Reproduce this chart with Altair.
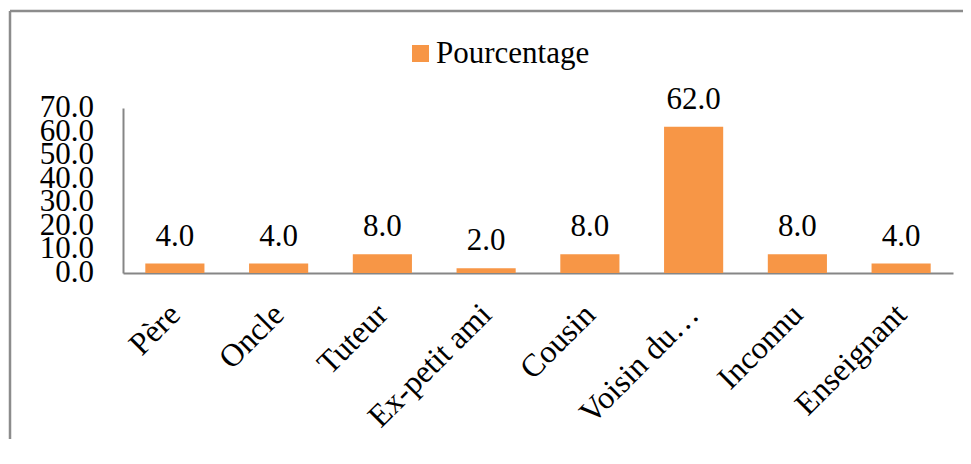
import altair as alt
import pandas as pd

categories = ["Père", "Oncle", "Tuteur", "Ex-petit ami", "Cousin", "Voisin du…", "Inconnu", "Enseignant"]
values = [4.0, 4.0, 8.0, 2.0, 8.0, 62.0, 8.0, 4.0]
series_name = "Pourcentage"
y_ticks = [0, 10, 20, 30, 40, 50, 60, 70]

df = pd.DataFrame({"cat": categories, "val": values, "serie": [series_name] * len(categories)})
ticks_df = pd.DataFrame({"t": y_ticks})

FONT = "Liberation Serif"
ORANGE = "#F79646"
GRAY = "#868686"

W, H = 830, 165

frame_src = alt.Chart(pd.DataFrame({"d": [0]}))
top_line = frame_src.mark_rule(stroke="#8c8c8c", strokeWidth=2.5).encode(
    x=alt.value(-113), x2=alt.value(W + 300), y=alt.value(-97)
)
left_line = frame_src.mark_rule(stroke="#8c8c8c", strokeWidth=2.5).encode(
    x=alt.value(-113), y=alt.value(-97), y2=alt.value(H + 300)
)

base = alt.Chart(df)

bars = base.mark_bar().encode(
    x=alt.X("cat:N", sort=categories,
            scale=alt.Scale(paddingInner=0.43, paddingOuter=0.215),
            axis=alt.Axis(title=None, labelAngle=-45, labelAlign="right", labelBaseline="middle",
                          labelFont=FONT, labelFontSize=32, labelColor="black", labelPadding=36,
                          labelLimit=0, ticks=False, domainColor=GRAY, domainWidth=2)),
    y=alt.Y("val:Q", scale=alt.Scale(domain=[0, 70], nice=False),
            axis=alt.Axis(title=None, values=y_ticks, labels=False, grid=False, ticks=False,
                          domainColor=GRAY, domainWidth=2)),
    color=alt.Color("serie:N", scale=alt.Scale(range=[ORANGE]),
                    legend=alt.Legend(title=None, orient="none", legendX=282, legendY=-70,
                                      symbolType="square", symbolSize=289, symbolStrokeWidth=0,
                                      symbolOpacity=1, labelFont=FONT, labelFontSize=31,
                                      labelColor="black", padding=0, labelOffset=0)),
)

labels = base.mark_text(font=FONT, fontSize=31, color="black", baseline="alphabetic", dy=-18).encode(
    x=alt.X("cat:N", sort=categories),
    y=alt.Y("val:Q"),
    text=alt.Text("val:Q", format=".1f"),
)

ylabels = alt.Chart(ticks_df).mark_text(
    font=FONT, fontSize=31, color="black", align="right", baseline="middle"
).encode(
    x=alt.value(-29),
    y=alt.Y("t:Q"),
    text=alt.Text("t:Q", format=".1f"),
)

chart = alt.layer(top_line, left_line, bars, labels, ylabels).properties(
    width=W, height=H,
    autosize=alt.AutoSizeParams(type="none"),
    padding={"left": 115, "top": 100, "right": 10, "bottom": 166},
).configure_view(stroke=None)

chart.save("out.html", embed_options={"renderer": "svg", "actions": False})
